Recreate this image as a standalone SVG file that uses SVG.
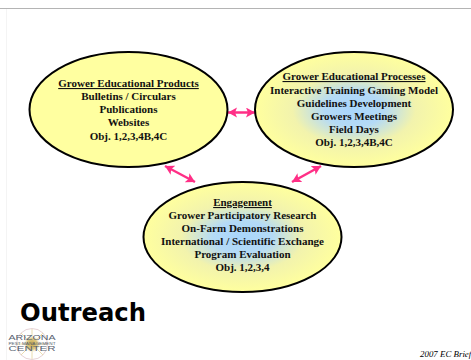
<svg xmlns="http://www.w3.org/2000/svg" width="471" height="360" viewBox="0 0 471 360">
<style>
.o{stroke:#000;stroke-width:2}
.t{font-family:"Liberation Serif",serif;font-size:11px;font-weight:bold;fill:#111;text-anchor:middle}
.u{text-decoration:underline}
.c{stroke:#ff2f86;stroke-width:2.500;fill:none;marker-start:url(#a);marker-end:url(#a)}
.l{font-family:"Liberation Sans",sans-serif;fill:#56606e;text-anchor:middle}
</style>
<defs>
<radialGradient id="g"><stop offset="0" stop-color="#a9d6fb"/><stop offset=".3" stop-color="#b4daf6"/><stop offset=".62" stop-color="#f2f3ad"/><stop offset="1" stop-color="#ffff9e"/></radialGradient>
<radialGradient id="s"><stop offset="0" stop-color="#c9a94a"/><stop offset=".6" stop-color="#dcc987"/><stop offset="1" stop-color="#fff" stop-opacity="0"/></radialGradient>
<marker id="a" markerUnits="userSpaceOnUse" markerWidth="11" markerHeight="11" refX="9" refY="5" orient="auto-start-reverse"><path d="M0 0L9 5L0 10L2 5Z" fill="#ff2f86"/></marker>
</defs>
<rect width="471" height="360" fill="#fff"/>
<path d="M0 8.500H471" stroke="#b4b4b4" stroke-width="1"/>
<path d="M6.500 9V360" stroke="#f4f4f4" stroke-width="1"/>
<g id="connectors">
<line class="c" x1="228" y1="112.500" x2="255" y2="112.500"/>
<line class="c" x1="165" y1="166" x2="195" y2="182"/>
<line class="c" x1="321" y1="166" x2="292" y2="182"/>
</g>
<g id="products">
<ellipse class="o" cx="128.500" cy="109.500" rx="99" ry="57.500" fill="#ffffa0"/>
<text class="t u" x="128.500" y="87">Grower Educational Products</text>
<text class="t" x="128.500" y="100">Bulletins / Circulars</text>
<text class="t" x="128.500" y="113">Publications</text>
<text class="t" x="128.500" y="126">Websites</text>
<text class="t" x="128.500" y="140">Obj. 1,2,3,4B,4C</text>
</g>
<g id="processes">
<ellipse class="o" cx="354" cy="109.500" rx="99" ry="57.500" fill="url(#g)"/>
<text class="t u" x="354" y="80">Grower Educational Processes</text>
<text class="t" x="354" y="94">Interactive Training Gaming Model</text>
<text class="t" x="354" y="107">Guidelines Development</text>
<text class="t" x="354" y="120">Growers Meetings</text>
<text class="t" x="354" y="133">Field Days</text>
<text class="t" x="354" y="146">Obj. 1,2,3,4B,4C</text>
</g>
<g id="engagement">
<ellipse class="o" cx="242.500" cy="237" rx="99" ry="55" fill="url(#g)"/>
<text class="t u" x="242.500" y="206">Engagement</text>
<text class="t" x="242.500" y="219">Grower Participatory Research</text>
<text class="t" x="242.500" y="232">On-Farm Demonstrations</text>
<text class="t" x="242.500" y="245">International / Scientific Exchange</text>
<text class="t" x="242.500" y="258">Program Evaluation</text>
<text class="t" x="242.500" y="271">Obj. 1,2,3,4</text>
</g>
<g id="title"><text x="20" y="321" font-family="'DejaVu Sans',sans-serif" font-size="24" font-weight="bold" fill="#000" textLength="126" lengthAdjust="spacingAndGlyphs">Outreach</text></g>
<g id="logo">
<circle cx="32" cy="344" r="15.500" fill="none" stroke="#e6d3d6" stroke-width="1"/>
<path d="M32 329V359M17 344H47M21 333L43 355M43 333L21 355" stroke="#eadcae" stroke-width="1"/>
<circle cx="32" cy="344" r="9" fill="url(#s)"/>
<text class="l" x="32" y="340" font-size="7" textLength="47" lengthAdjust="spacingAndGlyphs">ARIZONA</text>
<text class="l" x="32" y="344.500" font-size="3" textLength="47" lengthAdjust="spacingAndGlyphs">PEST MANAGEMENT</text>
<text class="l" x="32" y="351" font-size="7" textLength="47" lengthAdjust="spacingAndGlyphs">CENTER</text>
</g>
<text id="footer" x="420" y="357" font-family="'Liberation Serif',serif" font-size="8.900" font-style="italic" fill="#000">2007 EC Brief</text>
</svg>
